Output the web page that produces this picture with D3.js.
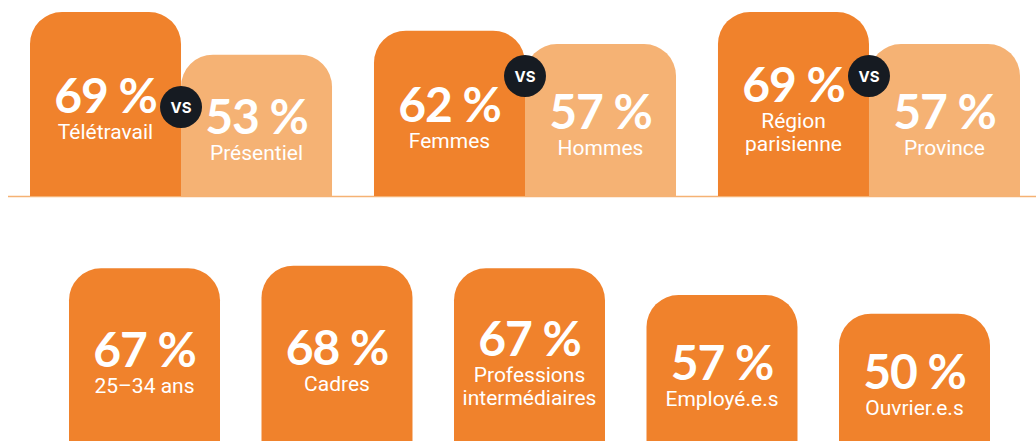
<!DOCTYPE html>
<html>
<head>
<meta charset="utf-8">
<script src="https://cdn.jsdelivr.net/npm/d3@7"></script>
<style>
  html, body { margin: 0; padding: 0; background: #fff; overflow: hidden; }
  svg { display: block; }
</style>
</head>
<body>
<svg id="chart" width="1036" height="441"></svg>
<script>
// Comparisons shown side by side (left value vs right value)
const leftLabels  = ["Télétravail", "Femmes", "Région\nparisienne"];
const leftValues  = [69, 62, 69];
const rightLabels = ["Présentiel", "Hommes", "Province"];
const rightValues = [53, 57, 57];

// Single bars by age / occupational group
const groupLabels = ["25–34 ans", "Cadres", "Professions\nintermédiaires", "Employé.e.s", "Ouvrier.e.s"];
const groupValues = [67, 68, 67, 57, 50];

// Layout
const W = 1036, H = 441;
const DARK = "#F0822C", LIGHT = "#F5B274", INK = "#161B22";
const pxPerPoint = 2.667;
const topBase = 196, bottomBase = 447;
const radius = 32;
const vsY = [107, 76, 76];   // vertical placement of the "VS" badges

const svg = d3.select("#chart");

const yTop = d3.scaleLinear().domain([0, 100]).range([topBase, topBase - 100 * pxPerPoint]);
const yBottom = d3.scaleLinear().domain([0, 100]).range([bottomBase, bottomBase - 100 * pxPerPoint]);

const xPairs = d3.scaleBand().domain(d3.range(3)).range([30, 1020]).paddingInner(0.122);
const xSide = d3.scaleBand().domain(["left", "right"]).range([0, xPairs.bandwidth()]);
const xGroups = d3.scaleBand().domain(d3.range(5)).range([69, 990]).paddingInner(0.2156);

// Rectangle with rounded top corners only
function topRounded(x, y, w, h, r) {
  const p = d3.path();
  p.moveTo(x, y + h);
  p.lineTo(x, y + r);
  p.arcTo(x, y, x + r, y, r);
  p.lineTo(x + w - r, y);
  p.arcTo(x + w, y, x + w, y + r, r);
  p.lineTo(x + w, y + h);
  p.closePath();
  return p.toString();
}

const numberFont = "Lato, 'Open Sans', sans-serif";
const labelFont = "Roboto, 'Noto Sans', sans-serif";

function drawBar(g, x, w, yScale, base, value, label, color) {
  const y = yScale(value);
  g.append("path")
    .attr("d", topRounded(x, y, w, base - y, radius))
    .attr("fill", color);
  const lines = label.split("\n");
  const center = (y + base) / 2;
  const cx = x + w / 2;
  const nb = center + 9 - (lines.length - 1) * 11;
  g.append("text")
    .attr("x", cx).attr("y", nb)
    .attr("text-anchor", "middle")
    .attr("fill", "#fff")
    .attr("font-family", numberFont)
    .attr("font-weight", 700)
    .attr("font-size", 48)
    .attr("letter-spacing", -1)
    .text(value + " %");
  lines.forEach((ln, i) => {
    g.append("text")
      .attr("x", cx).attr("y", nb + 26 + i * 23)
      .attr("text-anchor", "middle")
      .attr("fill", "#fff")
      .attr("font-family", labelFont)
      .attr("font-weight", 400)
      .attr("font-size", 21)
      .text(ln);
  });
}

// Baseline under the comparison row
svg.append("line")
  .attr("x1", 8).attr("x2", W)
  .attr("y1", topBase + 0.5).attr("y2", topBase + 0.5)
  .attr("stroke", LIGHT).attr("stroke-width", 1.5);

const topRow = svg.append("g");
leftValues.forEach((v, i) => {
  const g = topRow.append("g");
  const x0 = xPairs(i);
  drawBar(g, x0 + xSide("left"), xSide.bandwidth(), yTop, topBase, v, leftLabels[i], DARK);
  drawBar(g, x0 + xSide("right"), xSide.bandwidth(), yTop, topBase, rightValues[i], rightLabels[i], LIGHT);
  const cx = x0 + xSide("right");
  g.append("circle").attr("cx", cx).attr("cy", vsY[i]).attr("r", 21).attr("fill", INK);
  g.append("text")
    .attr("x", cx).attr("y", vsY[i] + 5.5)
    .attr("text-anchor", "middle")
    .attr("fill", "#fff")
    .attr("font-family", "Inter, 'Open Sans', sans-serif")
    .attr("font-weight", 700)
    .attr("font-size", 15)
    .text("VS");
});

const bottomRow = svg.append("g");
groupValues.forEach((v, i) => {
  drawBar(bottomRow.append("g"), xGroups(i), xGroups.bandwidth(), yBottom, bottomBase, v, groupLabels[i], DARK);
});
</script>
</body>
</html>
